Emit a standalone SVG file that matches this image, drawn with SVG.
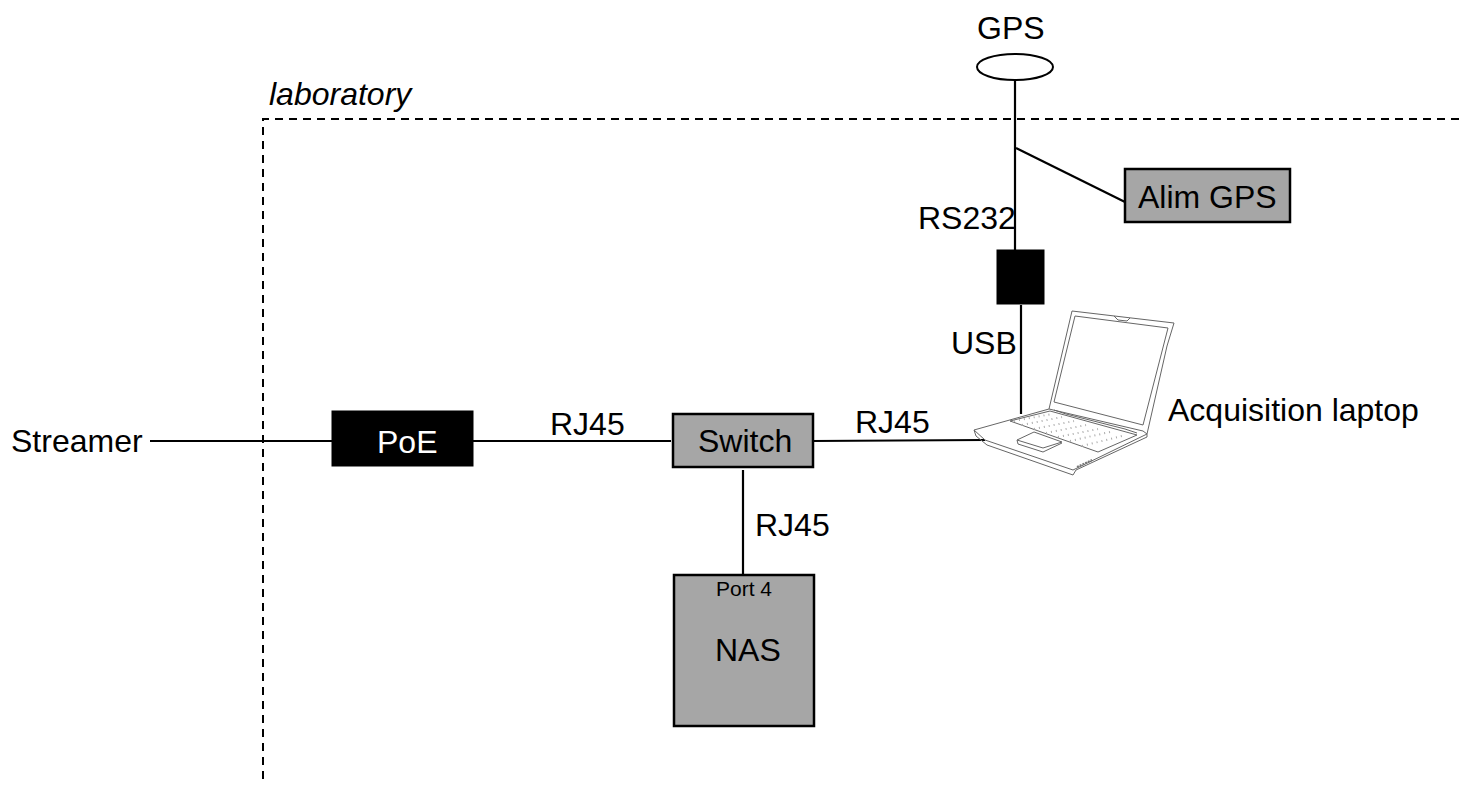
<svg xmlns="http://www.w3.org/2000/svg" width="1460" height="786" viewBox="0 0 1460 786">
<style>
text{font-family:"Liberation Sans",Arial,sans-serif;font-size:32px;fill:#000}
.box{fill:#a6a6a6;stroke:#000;stroke-width:2.5}
.blk{fill:#000;stroke:#000}
.ln{stroke:#000;stroke-width:2.2;fill:none}
.dash{stroke:#000;stroke-width:2;fill:none;stroke-dasharray:8 6}
.lap{fill:none;stroke:#666;stroke-width:1;stroke-linejoin:round}
</style>
<rect width="1460" height="786" fill="#fff"/>
<g id="boundary">
<path class="dash" d="M263 779V119H1460"/>
<text x="269" y="105" font-style="italic">laboratory</text>
</g>
<g id="connectors">
<path class="ln" d="M150 441H332"/>
<path class="ln" d="M473 441H671"/>
<path class="ln" d="M812 441L985 440"/>
<path class="ln" d="M743 470V574"/>
<path class="ln" d="M1015 81V250"/>
<path class="ln" d="M1016 148L1125 202"/>
<path class="ln" d="M1021 305V414"/>
</g>
<g id="labels">
<text x="550" y="435">RJ45</text>
<text x="855" y="433">RJ45</text>
<text x="755" y="536">RJ45</text>
<text x="918" y="229">RS232</text>
<text x="951" y="354">USB</text>
</g>
<g id="streamer"><text x="11" y="452">Streamer</text></g>
<g id="gps">
<ellipse cx="1015" cy="67" rx="38" ry="13" fill="#fff" stroke="#000" stroke-width="2"/>
<text x="977" y="39">GPS</text>
</g>
<g id="alim-gps">
<rect class="box" x="1125" y="169" width="165" height="53"/>
<text x="1138" y="208">Alim GPS</text>
</g>
<g id="converter"><rect class="blk" x="997" y="250" width="47" height="54"/></g>
<g id="poe">
<rect class="blk" x="332" y="411" width="141" height="55"/>
<text x="377" y="453" style="fill:#fff">PoE</text>
</g>
<g id="switch">
<rect class="box" x="673" y="414" width="140" height="53"/>
<text x="698" y="452">Switch</text>
</g>
<g id="nas">
<rect class="box" x="674" y="575" width="140" height="151"/>
<text x="716" y="596" style="font-size:21px">Port 4</text>
<text x="715" y="661">NAS</text>
</g>
<g id="laptop">
<path class="lap" d="M1072 311L1174 323L1167 346L1147 434L1143 431L1049 409Z"/>
<path class="lap" d="M1075 316L1168 328L1143 425L1054 402Z"/>
<path class="lap" d="M1114 316L1118 320L1127 321L1130 318"/>
<path class="lap" d="M1049 409L974 430L985 440L1073 470L1147 434"/>
<path class="lap" d="M974 430L976 436L987 445L1073 475L1076 470L1147 437V434"/>
<path class="lap" d="M1010 421L1050 411L1137 435L1098 452Z"/>
<path d="M1014 421L1052 414M1022 425L1062 417M1034 429L1074 421M1046 433L1086 425M1058 437L1098 429M1070 441L1110 432M1082 446L1122 436" stroke="#aaa" stroke-width="2" stroke-dasharray="1 4" fill="none"/>
<path class="lap" d="M1017 440L1034 432L1062 442L1043 448Z"/>
<path class="lap" d="M1017 440L1018 444L1043 452L1062 443"/>
<path class="lap" d="M1054 410L1066 414L1125 429L1137 433" stroke-width="1.5"/>
<path d="M1077 467L1092 460" stroke="#777" stroke-width="2" stroke-dasharray="2 1" fill="none"/>
</g>
<g id="laptop-label"><text x="1168" y="421">Acquisition laptop</text></g>
</svg>
